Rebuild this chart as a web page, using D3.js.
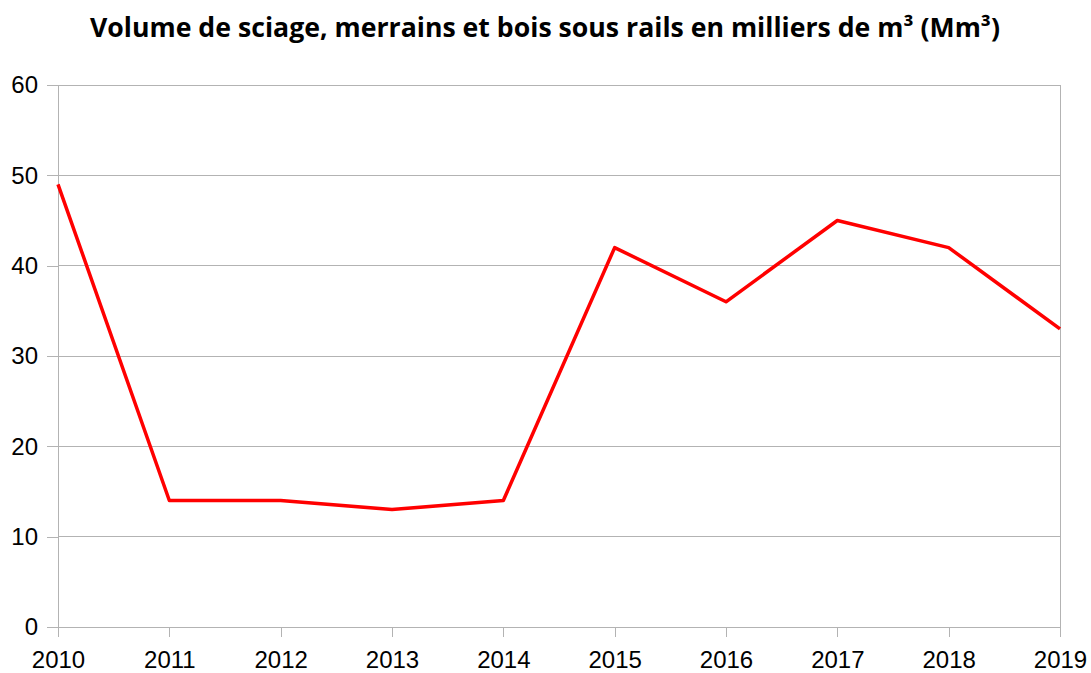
<!DOCTYPE html>
<html><head><meta charset="utf-8">
<script src="https://cdn.jsdelivr.net/npm/d3@7"></script>
<style>body{margin:0;background:#fff}</style>
</head><body>
<svg id="c" width="1091" height="673"></svg>
<script>
const years = ["2010","2011","2012","2013","2014","2015","2016","2017","2018","2019"];
const volumes = [49, 14, 14, 13, 14, 42, 36, 45, 42, 33];
const yTicks = [0, 10, 20, 30, 40, 50, 60];
const title = "Volume de sciage, merrains et bois sous rails en milliers de m³ (Mm³)";

const svg = d3.select("#c");
const m = {left: 58, right: 1060, top: 85, bottom: 627};
const x = d3.scalePoint().domain(years).range([m.left, m.right]);
const y = d3.scaleLinear().domain([0, 60]).range([m.bottom, m.top]);

svg.append("text").attr("x", 545).attr("y", 37).attr("text-anchor", "middle")
  .attr("font-family", "Open Sans").attr("font-weight", "bold").attr("font-size", 26)
  .attr("textLength", 910).attr("lengthAdjust", "spacingAndGlyphs")
  .attr("fill", "#000").text(title);

// grid
svg.append("g").selectAll("line").data(yTicks).join("line")
  .attr("x1", m.left).attr("x2", m.right).attr("y1", d => y(d)).attr("y2", d => y(d))
  .attr("stroke", "#b3b3b3").attr("stroke-width", 1).attr("shape-rendering", "crispEdges");
// right border
svg.append("line").attr("x1", m.right).attr("x2", m.right).attr("y1", m.top).attr("y2", m.bottom + 10)
  .attr("stroke", "#b3b3b3").attr("shape-rendering", "crispEdges");

const yAxis = d3.axisLeft(y).tickValues(yTicks).tickSize(11).tickPadding(9);
const gy = svg.append("g").attr("transform", `translate(${m.left},0)`).call(yAxis);
const xAxis = d3.axisBottom(x).tickSize(10).tickPadding(14);
const gx = svg.append("g").attr("transform", `translate(0,${m.bottom})`).call(xAxis);
[gx, gy].forEach(g => {
  g.selectAll("path,line").attr("stroke", "#b3b3b3").attr("shape-rendering", "crispEdges");
  g.selectAll("text").attr("font-family", "Liberation Sans").attr("font-size", 24).attr("fill", "#000");
});
gy.select(".domain").remove();
svg.append("line").attr("x1", m.left).attr("x2", m.left).attr("y1", m.top).attr("y2", m.bottom + 10)
  .attr("stroke", "#b3b3b3").attr("shape-rendering", "crispEdges");
gx.select(".domain").attr("d", `M${m.left},0H${m.right}`);

const line = d3.line().x((d, i) => x(years[i])).y(d => y(d));
svg.append("path").datum(volumes).attr("d", line)
  .attr("fill", "none").attr("stroke", "#ff0000").attr("stroke-width", 3.5)
  .attr("stroke-linejoin", "round");
</script>
</body></html>
